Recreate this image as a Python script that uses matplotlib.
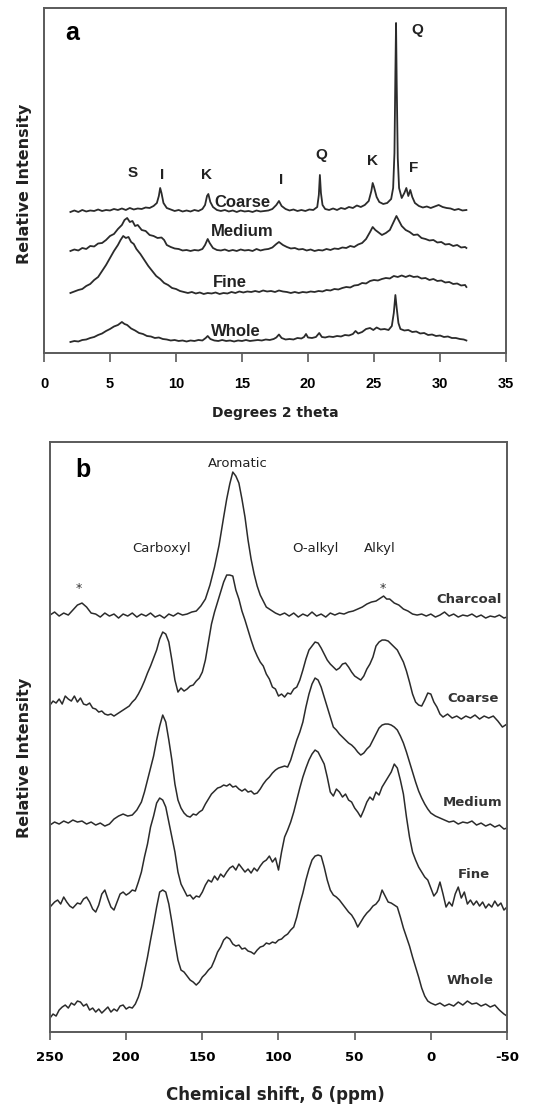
import numpy as np
import matplotlib.pyplot as plt

plt.rcParams['axes.unicode_minus'] = False

# ---- panel a: XRD traces (degrees 2 theta, relative intensity) ----
xrd_coarse = [(2.0,141),(2.3,142.5),(2.6,141),(2.9,143),(3.2,141.5),(3.5,142.5),(3.8,142),(4.1,143.5),(4.4,142),(4.7,143),
    (5.0,142.5),(5.3,144),(5.6,143),(5.9,144.5),(6.2,143),(6.5,145),(6.8,143.5),(7.1,144.5),(7.4,144),(7.7,145.5),
    (8.0,145),(8.3,147),(8.55,150),(8.7,157),(8.8,165),(8.9,160),(9.05,150),(9.3,145),(9.6,143.5),(9.9,142),
    (10.2,143),(10.5,141.5),(10.8,142.5),(11.1,141.5),(11.4,143),(11.7,142),(12.0,144),(12.2,148),(12.35,157),(12.45,159),
    (12.6,151),(12.8,146),(13.1,143),(13.4,142),(13.7,143),(14.0,141.5),(14.3,142.5),(14.6,141),(14.9,142.5),(15.2,141.5),
    (15.5,142),(15.8,141),(16.1,142.5),(16.4,141.5),(16.7,142),(17.0,142.5),(17.3,144),(17.6,148),(17.8,152),(18.0,147),
    (18.3,144),(18.6,142.5),(18.9,143.5),(19.2,142),(19.5,143),(19.8,142),(20.1,143.5),(20.4,143),(20.7,146),(20.82,158),
    (20.9,178),(20.98,160),(21.1,148),(21.3,144),(21.6,143),(21.9,144.5),(22.2,143),(22.5,145),(22.8,144),(23.1,146),
    (23.4,145),(23.7,147.5),(24.0,146),(24.3,148),(24.6,152),(24.8,162),(24.9,170),(25.0,166),(25.2,156),(25.4,151),
    (25.7,149),(26.0,150),(26.3,154),(26.45,165),(26.55,200),(26.62,280),(26.67,330),(26.72,270),(26.8,195),(26.9,165),
    (27.1,155),(27.3,160),(27.45,165),(27.6,157),(27.75,163),(27.9,156),(28.1,150),(28.4,147),(28.7,145.5),(29.0,146.5),
    (29.3,145),(29.6,146.5),(29.9,148),(30.2,146),(30.5,145),(30.8,144.5),(31.1,143),(31.4,144),(31.7,142.5),(32.0,143)]

xrd_medium = [(2.0,102),(2.3,103.5),(2.6,102.5),(2.9,105),(3.2,104),(3.5,107),(3.8,106.5),(4.1,109.5),(4.4,110),(4.7,113),
    (5.0,117),(5.3,119),(5.6,124),(5.9,128),(6.1,133),(6.3,135),(6.5,131),(6.7,132),(6.9,127),(7.1,128),
    (7.4,123),(7.7,122),(8.0,118),(8.3,117),(8.6,115),(8.9,115.5),(9.1,113),(9.3,108),(9.6,106),(9.9,104.5),
    (10.2,104),(10.5,102.5),(10.8,103),(11.1,102),(11.4,103),(11.7,102.5),(12.0,104),(12.2,108),(12.4,114),(12.55,110),
    (12.8,105),(13.1,103),(13.4,102.5),(13.7,103.5),(14.0,102),(14.3,103),(14.6,102),(14.9,103.5),(15.2,102.5),(15.5,103),
    (15.8,102),(16.1,104),(16.4,102.5),(16.7,103.5),(17.0,104),(17.3,105.5),(17.6,109),(17.8,111),(18.1,108),(18.4,106),
    (18.7,104.5),(19.0,105),(19.3,103.5),(19.6,104),(19.9,102.5),(20.2,103.5),(20.5,102),(20.8,103),(21.1,102.5),(21.4,104),
    (21.7,103),(22.0,104.5),(22.3,104),(22.6,105.5),(22.9,105),(23.2,107),(23.5,106),(23.8,108.5),(24.1,110),(24.4,114),
    (24.7,121),(24.9,126),(25.1,123),(25.3,121),(25.6,118),(25.9,120),(26.2,123),(26.45,130),(26.7,137),(26.9,132),
    (27.1,127),(27.4,123),(27.7,121),(28.0,118),(28.3,118.5),(28.6,115),(28.9,114),(29.2,112.5),(29.5,113),(29.8,110.5),
    (30.1,111),(30.4,108.5),(30.7,109),(31.0,107),(31.3,108),(31.6,105.5),(31.9,106),(32.0,105)]

xrd_fine = [(2.0,60),(2.3,61.5),(2.6,63),(2.9,64),(3.2,67),(3.5,69),(3.8,73),(4.1,76),(4.4,82),(4.7,88),
    (5.0,95),(5.3,102),(5.6,108),(5.8,113),(6.0,117),(6.2,115),(6.4,116),(6.6,111),(6.8,109),(7.0,104),
    (7.3,99),(7.6,93),(7.9,87),(8.2,82),(8.5,77),(8.8,74),(9.1,70),(9.4,68),(9.7,65),(10.0,64),
    (10.3,62),(10.6,61),(10.9,60),(11.2,61),(11.5,59.5),(11.8,60.5),(12.1,59),(12.4,60),(12.7,59.5),(13.0,60.5),
    (13.3,59),(13.6,60),(13.9,59.5),(14.2,61),(14.5,60),(14.8,61.5),(15.1,60.5),(15.4,61.5),(15.7,61),(16.0,62),
    (16.3,61),(16.6,62.5),(16.9,61.5),(17.2,62),(17.5,61),(17.8,62.5),(18.1,61.5),(18.4,61),(18.7,60),(19.0,61),
    (19.3,60),(19.6,61),(19.9,60.5),(20.2,61.5),(20.5,61),(20.8,62),(21.1,61.5),(21.4,63),(21.7,62.5),(22.0,64),
    (22.3,63.5),(22.6,65),(22.9,66),(23.2,65.5),(23.5,67.5),(23.8,68),(24.1,70),(24.4,69.5),(24.7,72),(25.0,73),
    (25.3,72.5),(25.6,74),(25.9,75),(26.2,74.5),(26.5,77),(26.8,76),(27.1,77.5),(27.4,76),(27.7,77.5),(28.0,76),
    (28.3,76.5),(28.6,74.5),(28.9,75),(29.2,73),(29.5,74),(29.8,72),(30.1,72.5),(30.4,70.5),(30.7,71),(31.0,69),
    (31.3,69.5),(31.6,67.5),(31.9,68),(32.0,66)]

xrd_whole = [(2.0,11),(2.3,12),(2.6,11.5),(2.9,13),(3.2,13.5),(3.5,15),(3.8,16),(4.1,18),(4.4,19.5),(4.7,22),
    (5.0,24),(5.3,26.5),(5.6,28),(5.9,31),(6.1,29),(6.3,28),(6.6,24.5),(6.9,22.5),(7.2,20),(7.5,19),
    (7.8,17),(8.1,16.5),(8.4,15),(8.7,15.5),(9.0,14),(9.3,13.5),(9.6,12.5),(9.9,13),(10.2,12),(10.5,12.5),
    (10.8,11.5),(11.1,12.5),(11.4,12),(11.7,13),(12.0,12.5),(12.25,15),(12.4,17),(12.6,14),(12.9,12.5),(13.2,12),
    (13.5,13),(13.8,12),(14.1,12.5),(14.4,11.5),(14.7,12.5),(15.0,12),(15.3,13),(15.6,12),(15.9,12.5),(16.2,13),
    (16.5,12.5),(16.8,13.5),(17.1,13),(17.4,14),(17.6,15.5),(17.8,18.5),(18.0,15),(18.3,13.5),(18.6,14),(18.9,13.5),
    (19.2,15),(19.5,14.5),(19.7,16),(19.85,19),(20.0,15.5),(20.3,15),(20.6,16),(20.85,20),(21.05,16),(21.3,15.5),
    (21.6,16.5),(21.9,16),(22.2,17),(22.5,16.5),(22.8,18),(23.1,17.5),(23.4,19),(23.6,22),(23.8,19.5),(24.1,21),
    (24.4,24),(24.7,25),(24.95,23),(25.2,25.5),(25.5,23.5),(25.8,24),(26.1,23),(26.35,27),(26.5,40),(26.62,58),
    (26.72,45),(26.85,30),(27.0,24),(27.3,22.5),(27.6,23),(27.9,21),(28.2,21.5),(28.5,19.5),(28.8,20),(29.1,18),
    (29.4,18.5),(29.7,17),(30.0,17.5),(30.3,16),(30.6,16.5),(30.9,15),(31.2,15),(31.5,14),(31.8,13.5),(32.0,12.5)]

xrd_peak_labels = ["S", "I", "K", "I", "Q", "K", "F", "Q"]
xrd_peak_pos = [(6.7,180), (8.95,178), (12.3,178), (18.0,173), (21.0,198), (24.9,192), (28.0,185), (28.3,323)]
xrd_names = ["Coarse", "Medium", "Fine", "Whole"]
xrd_name_pos = [(15.0,150), (15.0,121), (14.1,70), (14.5,21)]

# ---- panel b: 13C NMR traces (ppm, relative intensity) ----
nmr_charcoal = [(250,417),(247,420),(244,416),(241,419),(238,417),(235,422),(232,427),(229,429),(226,425),(223,419),
    (220,418),(217,415),(214,419),(211,416),(208,418),(205,414),(202,418),(199,416),(196,419),(193,415),
    (190,418),(187,416),(184,419),(181,415),(178,417),(175,414),(172,418),(169,416),(166,419),(163,417),
    (160,418),(157,420),(154,421),(151,426),(148,433),(145,447),(142,465),(139,487),(136,515),(134,533),
    (132,548),(130,560),(128,556),(126,549),(124,533),(122,515),(120,492),(118,473),(116,458),(114,446),
    (112,437),(110,431),(108,425),(105,422),(102,419),(99,417),(96,419),(93,416),(90,419),(87,415),
    (84,418),(81,416),(78,420),(75,416),(72,418),(69,415),(66,419),(63,417),(60,419),(57,418),
    (54,420),(51,421),(48,423),(45,425),(42,428),(39,430),(36,431),(33,434),(31,436),(29,433),
    (27,433),(24,429),(21,427),(18,423),(15,421),(12,418),(9,417),(6,418),(3,416),(0,418),
    (-3,415),(-6,417),(-9,420),(-12,416),(-15,418),(-18,415),(-21,417),(-24,416),(-27,418),(-30,415),
    (-33,417),(-36,414),(-39,416),(-42,415),(-45,417),(-48,414),(-50,415)]

nmr_coarse = [(250,327),(248,331),(246,329),(244,333),(242,328),(240,336),(238,333),(236,331),(234,336),(232,330),
    (230,334),(228,328),(226,327),(224,329),(222,324),(220,323),(218,320),(216,321),(214,318),(212,317),
    (210,318),(208,316),(206,318),(204,320),(202,322),(200,324),(198,326),(196,330),(194,333),(192,338),
    (190,344),(188,351),(186,359),(184,366),(182,374),(180,382),(178,393),(176,400),(174,398),(172,390),
    (170,372),(168,352),(166,340),(164,344),(162,341),(160,343),(158,346),(156,347),(154,351),(152,354),
    (150,360),(148,372),(146,390),(144,408),(142,420),(140,430),(138,440),(136,450),(134,457),(132,457),
    (130,456),(128,442),(126,433),(124,421),(122,412),(120,402),(118,392),(116,383),(114,376),(112,370),
    (110,366),(108,358),(106,353),(104,345),(102,343),(100,336),(98,338),(96,335),(94,339),(92,338),
    (90,343),(88,345),(86,352),(84,362),(82,373),(80,382),(78,386),(76,390),(74,389),(72,384),
    (70,378),(68,372),(66,368),(64,365),(62,362),(60,364),(58,368),(56,369),(54,365),(52,360),
    (50,356),(48,354),(46,352),(44,356),(42,363),(40,368),(38,375),(36,386),(34,390),(32,392),
    (30,392),(28,391),(26,388),(24,385),(22,382),(20,376),(18,370),(16,361),(14,350),(12,338),
    (10,330),(8,327),(6,326),(4,332),(2,339),(0,338),(-2,330),(-4,325),(-6,318),(-8,315),
    (-11,318),(-14,314),(-17,316),(-20,313),(-23,316),(-26,314),(-29,317),(-32,313),(-35,316),(-38,314),
    (-41,316),(-44,311),(-47,305),(-50,308)]

nmr_medium = [(250,207),(247,210),(244,208),(241,211),(238,209),(235,212),(232,210),(229,211),(226,208),(223,210),
    (220,207),(217,209),(214,206),(211,208),(208,213),(205,216),(202,218),(199,216),(196,217),(193,222),
    (190,230),(188,240),(186,252),(184,264),(182,276),(180,292),(178,306),(176,317),(174,310),(172,292),
    (170,272),(168,248),(166,232),(164,224),(162,219),(160,216),(158,215),(156,218),(154,217),(152,220),
    (150,222),(148,228),(146,233),(144,238),(142,241),(140,244),(138,245),(136,247),(134,246),(132,248),
    (130,245),(128,246),(126,243),(124,241),(122,243),(120,240),(118,241),(116,238),(114,239),(112,243),
    (110,248),(108,252),(106,255),(104,259),(102,262),(100,264),(98,265),(96,266),(94,265),(92,272),
    (90,282),(88,292),(86,300),(84,310),(82,325),(80,338),(78,348),(76,354),(74,352),(72,345),
    (70,335),(68,325),(66,315),(64,305),(62,302),(60,298),(58,295),(56,292),(54,289),(52,287),
    (50,284),(48,280),(46,277),(44,279),(42,283),(40,286),(38,292),(36,298),(34,304),(32,307),
    (30,308),(28,308),(26,307),(24,305),(22,302),(20,296),(18,289),(16,280),(14,270),(12,260),
    (10,250),(8,241),(6,234),(4,228),(2,223),(0,219),(-3,216),(-6,214),(-9,212),(-12,210),
    (-15,211),(-18,208),(-21,210),(-24,209),(-27,211),(-30,207),(-33,209),(-36,206),(-39,208),(-42,205),
    (-45,207),(-48,203),(-50,204)]

nmr_fine = [(250,125),(247,130),(245,132),(243,128),(241,135),(239,130),(237,126),(235,124),(232,129),(230,128),
    (228,133),(226,135),(224,130),(222,123),(220,120),(218,127),(216,138),(214,142),(212,133),(210,125),
    (208,122),(206,130),(204,138),(202,140),(200,137),(198,139),(196,142),(194,141),(192,150),(190,160),
    (188,175),(186,188),(184,205),(182,216),(180,229),(178,234),(176,232),(174,225),(172,210),(170,195),
    (168,180),(166,160),(164,148),(162,142),(160,136),(158,137),(156,133),(154,136),(152,135),(150,140),
    (148,147),(146,152),(144,150),(142,156),(140,152),(138,158),(136,155),(134,160),(132,164),(130,166),
    (128,162),(126,168),(124,164),(122,160),(120,163),(118,159),(116,164),(114,161),(112,166),(110,170),
    (108,172),(106,176),(104,170),(102,174),(100,162),(98,180),(96,195),(94,202),(92,210),(90,220),
    (88,232),(86,244),(84,255),(82,264),(80,272),(78,278),(76,282),(74,280),(72,274),(70,268),
    (68,255),(66,240),(64,236),(62,243),(60,240),(58,235),(56,238),(54,232),(52,230),(50,224),
    (48,220),(46,215),(44,222),(42,230),(40,235),(38,232),(36,240),(34,237),(32,245),(30,250),
    (28,255),(26,260),(24,268),(22,264),(20,252),(18,238),(16,215),(14,195),(12,180),(10,172),
    (8,165),(6,160),(4,155),(2,152),(0,144),(-2,136),(-4,140),(-6,150),(-8,138),(-10,125),
    (-12,130),(-14,126),(-16,138),(-18,145),(-20,134),(-22,140),(-24,128),(-26,132),(-28,127),(-30,131),
    (-32,126),(-34,130),(-36,124),(-38,128),(-40,125),(-42,131),(-44,126),(-46,129),(-48,122),(-50,125)]

nmr_whole = [(250,14),(248,18),(246,16),(244,22),(242,25),(240,27),(238,24),(236,29),(234,27),(232,31),
    (230,30),(228,26),(226,28),(224,22),(222,24),(220,20),(218,23),(216,19),(214,22),(212,25),
    (210,20),(208,23),(206,21),(204,26),(202,27),(200,23),(198,25),(196,24),(194,28),(192,35),
    (190,45),(188,60),(186,75),(184,92),(182,108),(180,125),(178,140),(176,142),(174,140),(172,128),
    (170,110),(168,90),(166,72),(164,62),(162,60),(160,56),(158,52),(156,50),(154,47),(152,50),
    (150,55),(148,58),(146,62),(144,65),(142,72),(140,80),(138,85),(136,92),(134,95),(132,93),
    (130,88),(128,86),(126,87),(124,83),(122,84),(120,81),(118,80),(116,78),(114,82),(112,85),
    (110,86),(108,89),(106,88),(104,90),(102,89),(100,92),(98,93),(96,96),(94,98),(92,102),
    (90,105),(88,115),(86,128),(84,139),(82,152),(80,163),(78,172),(76,176),(74,177),(72,176),
    (70,165),(68,152),(66,142),(64,137),(62,135),(60,132),(58,128),(56,124),(54,120),(52,117),
    (50,112),(48,105),(46,110),(44,115),(42,119),(40,122),(38,126),(36,128),(34,132),(32,142),
    (30,136),(28,130),(26,129),(24,127),(22,125),(20,115),(18,104),(16,95),(14,86),(12,75),
    (10,65),(8,55),(6,44),(4,36),(2,31),(0,29),(-3,27),(-6,29),(-9,26),(-12,28),
    (-15,26),(-18,30),(-21,27),(-24,31),(-27,28),(-30,29),(-33,26),(-36,28),(-39,25),(-42,27),
    (-45,22),(-48,18),(-50,16)]

nmr_names = ["Charcoal", "Coarse", "Medium", "Fine", "Whole"]
nmr_name_pos = [(-25,433), (-27.5,334), (-27.5,230), (-28.4,158), (-25.8,52)]
nmr_group_labels = ["Aromatic", "Carboxyl", "O-alkyl", "Alkyl"]
nmr_group_pos = [(126.6,569), (176.5,484), (76,484), (33.3,484)]
star_pos = [(231,444), (31.4,444)]

line_col = "#2b2b2b"
spine_col = "#5a5a5a"
arial = "Liberation Sans"

fig = plt.figure(figsize=(5.55, 11.09), dpi=100)
ax1 = fig.add_axes([0.0793, 0.6817, 0.8324, 0.3111])
ax2 = fig.add_axes([0.0901, 0.0694, 0.8234, 0.5320])

# panel a
for tr in [xrd_coarse, xrd_medium, xrd_fine, xrd_whole]:
    x, y = np.array(tr).T
    ax1.plot(x, y, color=line_col, lw=1.3)
for lab, (px, py) in zip(xrd_peak_labels, xrd_peak_pos):
    ax1.text(px, py, lab, ha="center", va="center", fontsize=11, fontweight="bold",
             family=arial, color="#222222")
for lab, (px, py) in zip(xrd_names, xrd_name_pos):
    ax1.text(px, py, lab, ha="center", va="center", fontsize=12, fontweight="bold",
             family=arial, color="#222222")
ax1.text(2.1, 320, "a", ha="center", va="center", fontsize=18, fontweight="bold", family=arial)
ax1.set_xlim(0, 35)
ax1.set_ylim(0, 345)
ax1.set_xticks(np.arange(0, 36, 5))
ax1.set_yticks([])
ax1.tick_params(axis="x", direction="out", length=6.5, width=1.2, color=spine_col, pad=11)
for lbl in ax1.get_xticklabels():
    lbl.set_fontweight("bold")
    lbl.set_fontsize(10.5)
    lbl.set_family(arial)

# panel b
for tr in [nmr_charcoal, nmr_coarse, nmr_medium, nmr_fine, nmr_whole]:
    x, y = np.array(tr).T
    ax2.plot(x, y, color=line_col, lw=1.1)
for lab, (px, py) in zip(nmr_names, nmr_name_pos):
    ax2.text(px, py, lab, ha="center", va="center", fontsize=9.5, fontweight="bold", color="#333333")
for lab, (px, py) in zip(nmr_group_labels, nmr_group_pos):
    ax2.text(px, py, lab, ha="center", va="center", fontsize=9.5, color="#222222")
for px, py in star_pos:
    ax2.text(px, py, "*", ha="center", va="center", fontsize=9, color="#333333")
ax2.text(228.3, 562, "b", ha="center", va="center", fontsize=18, fontweight="bold", family=arial)
ax2.set_xlim(250, -50)
ax2.set_ylim(0, 590)
ax2.set_xticks(np.arange(250, -51, -50))
ax2.set_yticks([])
ax2.tick_params(axis="x", direction="out", length=6, width=1.2, color=spine_col, pad=8)
for lbl in ax2.get_xticklabels():
    lbl.set_fontweight("bold")
    lbl.set_fontsize(9.5)

for ax in [ax1, ax2]:
    for s in ax.spines.values():
        s.set_color(spine_col)
        s.set_linewidth(1.4)

fig.text(0.045, 0.834, "Relative Intensity", rotation=90, ha="center", va="center",
         fontsize=11.5, fontweight="bold", color="#222222")
fig.text(0.045, 0.3165, "Relative Intensity", rotation=90, ha="center", va="center",
         fontsize=11.5, fontweight="bold", color="#222222")
fig.text(0.4955, 0.6276, "Degrees 2 theta", ha="center", va="center", fontsize=10,
         fontweight="bold", color="#222222")
fig.text(0.497, 0.0126, "Chemical shift, \u03b4 (ppm)", ha="center", va="center", fontsize=12,
         fontweight="bold", color="#222222")

fig.savefig("out.png", dpi=100)
